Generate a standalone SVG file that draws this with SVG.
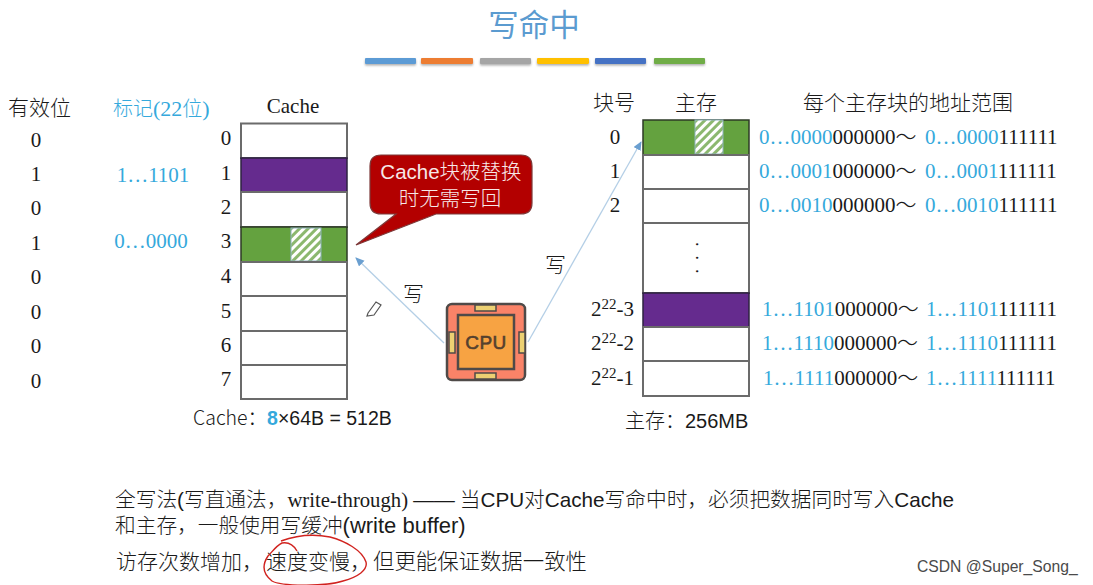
<svg xmlns="http://www.w3.org/2000/svg" width="1093" height="585" viewBox="0 0 1093 585">
<defs>
<style>
text{font-family:"Liberation Serif","Noto Sans CJK SC",serif;font-size:21px;fill:#1a1a1a}
.s{font-family:"Liberation Sans","Noto Sans CJK SC",sans-serif}
.cj{font-family:"Noto Sans CJK SC",sans-serif;font-weight:300}
.sc{font-family:"Liberation Sans","Noto Sans CJK SC",sans-serif;font-weight:300}
.b{fill:#35a9dc}
.m{text-anchor:middle}
.cell{fill:#fff;stroke:#6b6b6b;stroke-width:2}
.g{fill:#64a23f;stroke:#2c3a26;stroke-width:1.5}
.p{fill:#652b8e;stroke:#2e2340;stroke-width:1.5}
.h{fill:url(#hatch);stroke:#8fb3c0;stroke-width:1}
.conn{fill:none;stroke:#b4cfe6;stroke-width:1.3}
.bar{stroke:none}
.pin{fill:#ecd072;stroke:#4f4a48;stroke-width:1.500}
.sup{font-size:15px}
</style>
<pattern id="hatch" width="6" height="6" patternUnits="userSpaceOnUse" patternTransform="rotate(-45)">
<rect width="6" height="6" fill="#fff"/><rect width="6" height="3" fill="#8cb86f"/>
</pattern>
<marker id="arr" markerWidth="10" markerHeight="10" refX="8" refY="4" orient="auto" markerUnits="userSpaceOnUse">
<path d="M0 0L9 4L0 8Z" fill="#6a9fd0"/>
</marker>
<filter id="sh" x="-10%" y="-50%" width="120%" height="220%"><feDropShadow dx="0" dy="1.5" stdDeviation="1" flood-color="#888" flood-opacity=".7"/></filter>
</defs>
<rect width="1093" height="585" fill="#fff"/>

<g id="title">
<text class="cj m" x="534" y="36" style="font-size:30.500px;fill:#5b9bd0;font-weight:400">写命中</text>
<g filter="url(#sh)">
<rect class="bar" x="365" y="58" width="51" height="6" rx="1" fill="#5b9bd5"/>
<rect class="bar" x="421" y="58" width="52" height="6" rx="1" fill="#ed7d31"/>
<rect class="bar" x="480" y="58" width="51" height="6" rx="1" fill="#a5a5a5"/>
<rect class="bar" x="537" y="58" width="52" height="6" rx="1" fill="#ffc000"/>
<rect class="bar" x="595" y="58" width="51" height="6" rx="1" fill="#4472c4"/>
<rect class="bar" x="654" y="58" width="51" height="6" rx="1" fill="#70ad47"/>
</g>
</g>

<g id="valid-column">
<text class="cj" x="8" y="115">有效位</text>
<text class="m" x="36" y="147">0</text><text class="m" x="36" y="181">1</text><text class="m" x="36" y="215">0</text><text class="m" x="36" y="250">1</text><text class="m" x="36" y="284">0</text><text class="m" x="36" y="319">0</text><text class="m" x="36" y="353">0</text><text class="m" x="36" y="388">0</text>
</g>

<g id="tag-column">
<text class="b cj" x="113" y="116" style="font-size:20px">标记<tspan style="font-family:'Liberation Serif';font-size:22px">(22</tspan>位<tspan style="font-family:'Liberation Serif';font-size:22px">)</tspan></text>
<text class="b m" x="153" y="182">1…1101</text>
<text class="b m" x="151" y="248">0…0000</text>
</g>

<g id="cache">
<text class="m" x="293" y="113">Cache</text>
<text class="m" x="226" y="145">0</text><text class="m" x="226" y="180">1</text><text class="m" x="226" y="214">2</text><text class="m" x="226" y="248">3</text><text class="m" x="226" y="283">4</text><text class="m" x="226" y="318">5</text><text class="m" x="226" y="352">6</text><text class="m" x="226" y="386">7</text>
<rect class="cell" x="241" y="123.500" width="106" height="34.500"/>
<rect class="p" x="241" y="158" width="106" height="34"/>
<rect class="cell" x="241" y="192" width="106" height="35"/>
<rect class="g" x="241" y="227" width="106" height="35"/>
<rect class="h" x="291" y="228" width="30" height="33"/>
<rect class="cell" x="241" y="262" width="106" height="34"/>
<rect class="cell" x="241" y="296" width="106" height="35"/>
<rect class="cell" x="241" y="331" width="106" height="34"/>
<rect class="cell" x="241" y="365" width="106" height="34"/>
<text class="s" x="193" y="425" style="font-size:19.500px"><tspan class="cj">Cache：</tspan><tspan class="b" style="font-weight:700">8</tspan>×64B = 512B</text>
</g>

<g id="callout">
<path d="M381 155H521Q532 155 532 166V203Q532 214 521 214H436L356 245L396 214H381Q370 214 370 203V166Q370 155 381 155Z" fill="#b30000" stroke="#7d3a3a" stroke-width="1.2"/>
<text class="sc m" style="fill:#f7e8e8;font-size:20.500px"><tspan x="451" y="179">Cache块被替换</tspan><tspan x="450" y="206">时无需写回</tspan></text>
</g>

<g id="connectors">
<path class="conn" d="M444 343L356 258" marker-end="url(#arr)"/>
<path class="conn" d="M528 342L641 142" marker-end="url(#arr)"/>
</g>
<g id="connector-labels">
<text class="cj" x="403" y="301">写</text>
<text class="cj" x="545" y="272">写</text>
</g>

<g id="pencil">
<path d="M368 313L376 302L381 305L374 315L367 316Z" fill="#fff" stroke="#555" stroke-width="1.2"/>
</g>

<g id="cpu">
<rect x="447" y="304" width="78" height="76" rx="5" fill="#fa8368" stroke="#4f4a48" stroke-width="2.500"/>
<rect x="458" y="315" width="56" height="54" fill="#f7a343" stroke="#4f4a48" stroke-width="2.500"/>
<rect class="pin" x="475" y="305" width="21" height="6"/>
<rect class="pin" x="475" y="373" width="21" height="6"/>
<rect class="pin" x="449" y="332" width="6" height="21"/>
<rect class="pin" x="519" y="332" width="6" height="21"/>
<text class="s m" x="486" y="349" style="font-size:19px;fill:#55402e;stroke:#55402e;stroke-width:.6;letter-spacing:.5px">CPU</text>
</g>

<g id="memory">
<text class="cj" x="593" y="110">块号</text>
<text class="cj" x="675" y="110">主存</text>
<text class="cj" x="803" y="110">每个主存块的地址范围</text>
<text class="m" x="615" y="144">0</text><text class="m" x="615" y="178">1</text><text class="m" x="615" y="212">2</text>
<rect class="g" x="643" y="120" width="106" height="35"/>
<rect class="h" x="695" y="120" width="28" height="34"/>
<rect class="cell" x="643" y="155" width="106" height="34"/>
<rect class="cell" x="643" y="189" width="106" height="34"/>
<rect class="cell" x="643" y="223" width="106" height="70"/>
<rect class="p" x="643" y="293" width="106" height="34"/>
<rect class="cell" x="643" y="327" width="106" height="34"/>
<rect class="cell" x="643" y="361" width="106" height="35"/>
<text transform="translate(695.500,242) rotate(90)" style="font-size:18px;letter-spacing:9px">...</text>
<text x="591" y="316">2<tspan dy="-7" class="sup">22</tspan><tspan dy="7">-3</tspan></text>
<text x="591" y="350">2<tspan dy="-7" class="sup">22</tspan><tspan dy="7">-2</tspan></text>
<text x="591" y="385">2<tspan dy="-7" class="sup">22</tspan><tspan dy="7">-1</tspan></text>
<text class="cj" x="625" y="428" style="font-size:20px">主存：<tspan class="s">256MB</tspan></text>
</g>

<g id="address-ranges">
<text x="759" y="144"><tspan class="b">0…0000</tspan>000000<tspan class="cj">～</tspan><tspan class="b" x="925">0…0000</tspan>111111</text>
<text x="759" y="178"><tspan class="b">0…0001</tspan>000000<tspan class="cj">～</tspan><tspan class="b" x="925">0…0001</tspan>111111</text>
<text x="759" y="212"><tspan class="b">0…0010</tspan>000000<tspan class="cj">～</tspan><tspan class="b" x="925">0…0010</tspan>111111</text>
<text x="762" y="316"><tspan class="b">1…1101</tspan>000000<tspan class="cj">～</tspan><tspan class="b" x="926">1…1101</tspan>111111</text>
<text x="762" y="350"><tspan class="b">1…1110</tspan>000000<tspan class="cj">～</tspan><tspan class="b" x="926">1…1110</tspan>111111</text>
<text x="763" y="385"><tspan class="b">1…1111</tspan>000000<tspan class="cj">～</tspan><tspan class="b" x="926">1…1111</tspan>111111</text>
</g>

<g id="notes">
<text class="sc" style="font-size:20.700px"><tspan x="115" y="507">全写法(写直通法，<tspan style="font-family:'Liberation Serif'">write-through) —— </tspan>当CPU对Cache写命中时，必须把数据同时写入Cache</tspan><tspan x="115" y="533">和主存，一般使用写缓冲<tspan style="font-size:22px">(write buffer)</tspan></tspan></text>
<text class="cj" x="116" y="569" style="font-size:21px">访存次数增加，<tspan x="266">速度变慢，</tspan><tspan x="373" style="font-size:21.400px">但更能保证数据一致性</tspan></text>
<path d="M297 551C293 544 288 542 282 543C276 546 272 552 268 556C262 565 263 574 272 581C280 586 325 587 343 581C358 577 368 570 366 562C362 550 345 541 330 537C315 534 300 534 281 541" fill="none" stroke="#d1231f" stroke-width="1.400"/>
</g>

<g id="watermark">
<text class="s" x="917" y="572" style="font-size:15.700px;fill:#4a4a4a">CSDN @Super_Song_</text>
</g>
</svg>
